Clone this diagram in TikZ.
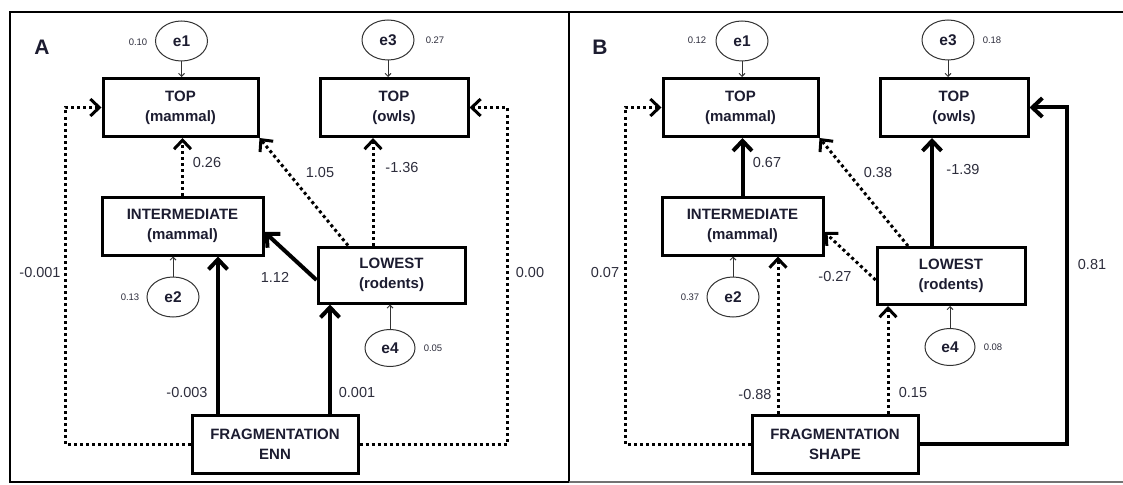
\documentclass[tikz,border=0pt]{standalone}
\usepackage{fontspec}
\setmainfont{Liberation Sans}
\usetikzlibrary{arrows.meta,shapes.geometric}
\definecolor{txt}{RGB}{28,28,48}
\definecolor{lbl}{RGB}{45,45,60}
\begin{document}
\begin{tikzpicture}[x=1pt,y=-1pt,
  box/.style={draw, line width=3pt, minimum width=#1, minimum height=58pt, inner sep=0pt, align=center,
    font=\fontsize{15}{20}\selectfont\bfseries, text=txt},
  err/.style={draw, ellipse, line width=1pt, draw=black!80, minimum width=52pt, minimum height=40pt, inner sep=0pt,
    font=\fontsize{15.5}{18}\selectfont\bfseries, text=txt},
  num/.style={font=\fontsize{14.5}{16}\selectfont, text=lbl, inner sep=0pt},
  small/.style={font=\fontsize{9.5}{11}\selectfont, text=lbl, inner sep=0pt},
  panel/.style={font=\fontsize{21}{24}\selectfont\bfseries, text=txt, inner sep=0pt},
  thickarr/.style={line width=4pt, -{Straight Barb[length=10pt,width=19pt]}},
  dotarr/.style={line width=3pt, dash pattern=on 3pt off 3pt, -{Straight Barb[length=9pt,width=17pt]}},
  thinarr/.style={line width=0.9pt, draw=black!80, -{Straight Barb[length=3pt,width=6pt]}},
  frame/.style={line width=2.5pt}
]
\useasboundingbox (0,0) rectangle (1123,484);
% frames
\draw[frame] (10,12) rectangle (569,482);
\draw[frame] (1126,12) -- (569,12) -- (569,482);
\draw[frame, draw=black!55] (569,482) -- (1126,482);

% ---------- Panel A ----------
\node[panel] (labA) at (42,47) {A};
\node[box=155pt] (tA1) at (180.5,107.5) {TOP\\(mammal)};
\node[box=148pt] (tA2) at (394,107.5) {TOP\\(owls)};
\node[box=161pt] (iA) at (182.5,226) {INTERMEDIATE\\(mammal)};
\node[box=147pt, minimum height=56pt] (lA) at (391.5,275) {LOWEST\\(rodents)};
\node[box=166pt] (fA) at (275,444) {FRAGMENTATION\\ENN};
\node[err] (e1A) at (181.5,41) {e1};
\node[err] (e3A) at (388,40) {e3};
\node[err] (e2A) at (173,297) {e2};
\node[err, minimum height=37pt, minimum width=50pt] (e4A) at (390,348) {e4};
\coordinate (cA1) at (65,107.5);
\coordinate (cA2) at (507,107.5);

\draw[thinarr] (e1A.south) -- (e1A.south |- tA1.north);
\draw[thinarr] (e3A.south) -- (e3A.south |- tA2.north);
\draw[thinarr] (e2A.north) -- (e2A.north |- iA.south);
\draw[thinarr] (e4A.north) -- (e4A.north |- lA.south);

\draw[dotarr] (iA.north) -- (iA.north |- tA1.south);
\draw[dotarr] ([xshift=-18.5pt]lA.north) -- ([xshift=-18.5pt]lA.north |- tA2.south);
\draw[dotarr] ([xshift=-43.5pt]lA.north) -- (tA1.south east);
\draw[thickarr] ([yshift=-5pt]lA.west) -- ([yshift=-6pt]iA.east);
\draw[thickarr] ([xshift=-57pt]fA.north) -- ([xshift=-57pt]fA.north |- iA.south);
\draw[thickarr] ([xshift=55pt]fA.north) -- ([xshift=55pt]fA.north |- lA.south);
\draw[dotarr] (fA.west) -| (cA1) -- (tA1.west);
\draw[dotarr] (fA.east) -| (cA2) -- (tA2.east);

\node[num] (nA1) at (207,163) {0.26};
\node[num] (nA2) at (320,173) {1.05};
\node[num] (nA3) at (402,168) {-1.36};
\node[num] (nA4) at (275,277) {1.12};
\node[num] (nA5) at (187,393) {-0.003};
\node[num] (nA6) at (357,393) {0.001};
\node[num] (nA7) at (40,273) {-0.001};
\node[num] (nA8) at (530,273) {0.00};
\node[small] (sA1) at (138,42) {0.10};
\node[small] (sA2) at (435,40) {0.27};
\node[small] (sA3) at (130,297) {0.13};
\node[small] (sA4) at (433,348) {0.05};

% ---------- Panel B ----------
\node[panel] (labB) at (600,47) {B};
\node[box=155pt] (tB1) at (740.5,107.5) {TOP\\(mammal)};
\node[box=148pt] (tB2) at (954,107.5) {TOP\\(owls)};
\node[box=161pt] (iB) at (742.5,226) {INTERMEDIATE\\(mammal)};
\node[box=148pt, minimum height=57pt] (lB) at (951,276) {LOWEST\\(rodents)};
\node[box=166pt] (fB) at (835,444) {FRAGMENTATION\\SHAPE};
\node[err] (e1B) at (742,41) {e1};
\node[err] (e3B) at (948,40) {e3};
\node[err] (e2B) at (733,297) {e2};
\node[err, minimum height=37pt, minimum width=50pt] (e4B) at (950,347) {e4};
\coordinate (cB1) at (625,107.5);
\coordinate (cB2) at (1067,107.5);

\draw[thinarr] (e1B.south) -- (e1B.south |- tB1.north);
\draw[thinarr] (e3B.south) -- (e3B.south |- tB2.north);
\draw[thinarr] (e2B.north) -- (e2B.north |- iB.south);
\draw[thinarr] (e4B.north) -- (e4B.north |- lB.south);

\draw[thickarr] (iB.north) -- (iB.north |- tB1.south);
\draw[thickarr] ([xshift=-19pt]lB.north) -- ([xshift=-19pt]lB.north |- tB2.south);
\draw[dotarr] ([xshift=-43pt]lB.north) -- (tB1.south east);
\draw[dotarr] ([yshift=-4pt]lB.west) -- ([yshift=-6pt]iB.east);
\draw[dotarr] ([xshift=-57pt]fB.north) -- ([xshift=-57pt]fB.north |- iB.south);
\draw[dotarr] ([xshift=53pt]fB.north) -- ([xshift=53pt]fB.north |- lB.south);
\draw[dotarr] (fB.west) -| (cB1) -- (tB1.west);
\draw[thickarr] (fB.east) -| (cB2) -- (tB2.east);

\node[num] (nB1) at (767,163) {0.67};
\node[num] (nB2) at (878,173) {0.38};
\node[num] (nB3) at (963,170) {-1.39};
\node[num] (nB4) at (835,277) {-0.27};
\node[num] (nB5) at (755,395) {-0.88};
\node[num] (nB6) at (913,393) {0.15};
\node[num] (nB7) at (605,273) {0.07};
\node[num] (nB8) at (1092,265) {0.81};
\node[small] (sB1) at (697,40) {0.12};
\node[small] (sB2) at (992,40) {0.18};
\node[small] (sB3) at (690,297) {0.37};
\node[small] (sB4) at (993,347) {0.08};
\end{tikzpicture}
\end{document}
